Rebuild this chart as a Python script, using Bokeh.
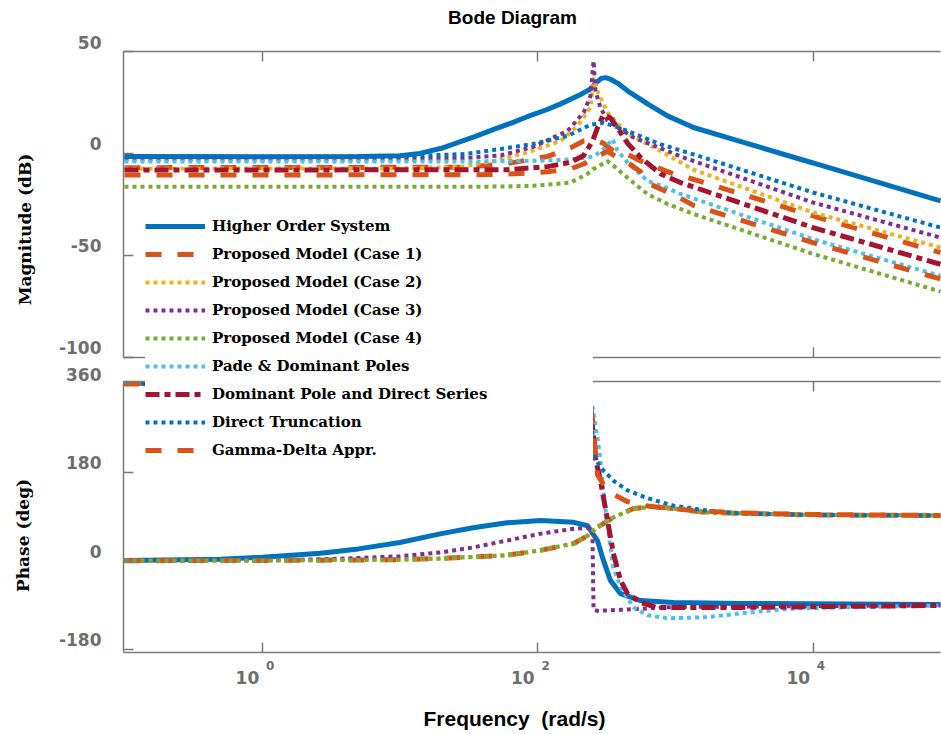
import math
from bokeh.plotting import figure
from bokeh.models import (Range1d, LinearAxis, LogAxis, FixedTicker, Legend,
                          LegendItem, Label)
from bokeh.embed import file_html
from bokeh.resources import INLINE

# ------------------------------------------------------------------ data
# frequency (rad/s) / magnitude (dB)
w_hos = [0.1, 1, 5, 10, 14, 20, 27.5, 35, 48, 65, 84, 115, 147, 200, 242, 270, 290, 311, 338, 380, 450, 629, 877, 1355, 3000, 10000, 84300]
mag_hos = [-1.5, -1.6, -1.5, -1.1, 0.0, 2.5, 5.8, 8.2, 11.8, 15.0, 18.0, 21.3, 24.3, 28.5, 31.6, 35.0, 36.8, 37.2, 36.4, 34.5, 30.7, 24.3, 18.4, 12.7, 5.8, -4.7, -23.3]

w_c1 = [0.1, 30, 60, 118, 173, 216, 260, 300, 355, 450, 560, 740, 970, 1355, 10000, 84300]
mag_c1 = [-7.0, -6.8, -5.0, -1.5, 2.7, 6.1, 6.5, 5.0, 1.2, -0.5, -3.7, -7.0, -10.0, -12.7, -30.7, -48.7]

w_c2 = [0.1, 10, 27.5, 48, 84, 147, 195, 242, 255, 272, 297, 322, 450, 780, 1355, 10000, 84300]
mag_c2 = [-7.5, -7.4, -6.6, -3.7, 0.4, 6.1, 13.5, 22.5, 37.2, 30.7, 25.0, 20.0, 9.6, 1.2, -8.0, -29.0, -46.2]

w_c3 = [0.1, 10, 30, 54, 93, 165, 216, 242, 255, 263, 286, 322, 498, 877, 1090, 10000, 84300]
mag_c3 = [-2.9, -2.8, -2.2, -1.0, 3.2, 11.0, 20.0, 28.2, 45.4, 30.7, 22.5, 16.0, 7.8, 1.2, -1.5, -24.1, -41.3]

w_c4 = [0.1, 54, 93, 147, 173, 231, 255, 322, 355, 450, 629, 877, 1355, 10000, 84300]
mag_c4 = [-16.4, -16.3, -15.9, -14.8, -14.3, -10.0, -7.6, -3.8, -6.0, -12.0, -20.0, -24.8, -29.7, -49.3, -67.8]

w_pd = [0.1, 30, 100, 173, 255, 301, 350, 380, 450, 629, 877, 1090, 10000, 84300]
mag_pd = [-4.0, -4.0, -3.6, -3.0, -1.5, 2.0, 7.0, 1.5, -4.5, -13.5, -17.0, -19.9, -42.1, -60.1]

w_dp = [0.1, 60, 118, 173, 216, 251, 272, 300, 338, 380, 450, 560, 780, 1090, 10000, 84300]
mag_dp = [-8.2, -8.0, -6.5, -4.4, -1.0, 6.1, 12.5, 18.8, 17.4, 12.5, 5.0, -2.0, -10.0, -14.3, -36.4, -54.4]

w_dt = [0.1, 10, 30, 54, 93, 165, 242, 301, 338, 450, 780, 1355, 10000, 84300]
mag_dt = [-1.6, -1.5, -0.3, 2.2, 4.6, 8.6, 14.0, 15.1, 14.0, 11.0, 4.5, -0.5, -19.2, -36.4]

w_gd = [0.1, 30, 60, 118, 173, 216, 260, 322, 380, 473, 560, 629, 877, 1090, 1355, 10000, 84300]
mag_gd = [-10.6, -10.5, -10.2, -9.0, -7.6, -5.2, -2.0, 1.0, -2.0, -5.5, -9.0, -14.5, -19.0, -22.0, -25.5, -43.8, -61.6]

# frequency (rad/s) / phase (deg)
wp_hos = [0.1, 0.5, 1, 2.65, 5, 10, 20, 34, 60, 105, 183, 231, 272, 301, 338, 400, 560, 970, 2960, 84300]
ph_hos = [0.5, 3, 7, 15, 24, 37, 55, 67, 77, 82, 78, 71, 41, 0, -40, -67, -81, -85, -87, -89]

# cases 1, 2 and 4 share the same phase curve in the picture
wp_c124 = [0.1, 1, 10, 20, 60, 105, 183, 231, 272, 355, 498, 700, 970, 1700, 10000, 84300]
ph_c124 = [0, 0.5, 2, 4.5, 11, 21, 35, 51, 68, 88, 106, 110, 106, 98, 93, 92]

wp_c3 = [0.1, 1, 3, 10, 20, 34, 60, 105, 183, 231, 250, 255, 272, 400, 629, 1000, 84300]
ph_c3 = [0, 1, 3, 9, 17, 27, 41, 55, 65, 67, 62, -100, -102, -100, -97, -94, -91]

wp_pd = [0.1, 200, 252, 259, 272, 286, 301, 322, 355, 400, 498, 629, 877, 1700, 2960, 7200, 84300]
ph_pd = [360, 360, 310, 285, 251, 204, 140, 70, -14, -54, -95, -111, -117, -115, -107, -97, -91]

wp_dp = [0.1, 200, 240, 263, 286, 322, 355, 400, 450, 560, 725, 2960, 84300]
ph_dp = [360, 360, 330, 208, 163, 82, 15, -40, -67, -85, -95, -95, -91]

wp_dt = [0.1, 200, 245, 259, 286, 355, 450, 629, 970, 1700, 2960, 10000, 84300]
ph_dt = [360, 360, 290, 210, 190, 163, 143, 127, 112, 102, 96, 93, 92]

wp_gd = [0.1, 200, 250, 272, 301, 355, 450, 560, 780, 1355, 2960, 10000, 84300]
ph_gd = [360, 360, 290, 175, 155, 135, 120, 113, 108, 102, 97, 94, 92]

series_names = ["Higher Order System", "Proposed Model (Case 1)", "Proposed Model (Case 2)",
                "Proposed Model (Case 3)", "Proposed Model (Case 4)", "Pade & Dominant Poles",
                "Dominant Pole and Direct Series", "Direct Truncation", "Gamma-Delta Appr."]

x_ticks = [1, 100, 10000]
x_tick_base = "10"
x_tick_exps = ["0", "2", "4"]
mag_ticks = [-100, -50, 0, 50]
mag_tick_labels = ["-100", "-50", "0", "50"]
ph_ticks = [-180, 0, 180, 360]
ph_tick_labels = ["-180", "0", "180", "360"]

# ------------------------------------------------------------------ layout (canvas px)
FIG_W, FIG_H = 941, 734
AX_L, AX_R = 123, 940
X1_PX, DEC_PX = 261.7, 137.7          # px of 1 rad/s, px per decade
MAG_TOP_PX, MAG_BOT_PX = 51.0, 356.7  # 50 dB and -100 dB
PH_180_PX, PH_M180_PX = 471.7, 648.7
PH_TOP_PX, PH_BOT_PX = 380.7, 652.0
NBSP = "\u00a0"


def w_at(px):
    return 10 ** ((px - X1_PX) / DEC_PX)


mag_ppd = (MAG_BOT_PX - MAG_TOP_PX) / 150.0
ph_ppd = (PH_M180_PX - PH_180_PX) / 360.0


def mag_at(py):
    return 50 - (py - MAG_TOP_PX) / mag_ppd


def ph_at(py):
    return 180 - (py - PH_180_PX) / ph_ppd


# the frame fills the whole canvas; axes are drawn at fixed locations inside it
p = figure(width=FIG_W, height=FIG_H, x_axis_type="log",
           x_range=Range1d(w_at(0), w_at(FIG_W)),
           y_range=Range1d(mag_at(FIG_H), mag_at(0)),
           x_axis_location=None, y_axis_location=None,
           output_backend="svg", toolbar_location=None,
           min_border_left=0, min_border_right=0, min_border_top=0, min_border_bottom=0)
p.extra_y_ranges = {"phase": Range1d(ph_at(FIG_H), ph_at(0))}
p.outline_line_color = None
p.xgrid.visible = False
p.ygrid.visible = False
p.background_fill_color = "white"
p.border_fill_color = "white"

# ------------------------------------------------------------------ styles
BLUE, ORANGE, YELLOW, PURPLE = "#0072BD", "#D95319", "#EDB120", "#7E2F8E"
GREEN, LBLUE, DRED = "#77AC30", "#4DBEEE", "#A2142F"
DOT = "4 4"
DASH = "16 16"
DASHDOT = "14 5 6 5"
styles = [
    dict(line_color=BLUE, line_width=5),
    dict(line_color=ORANGE, line_width=5, line_dash=DASH),
    dict(line_color=YELLOW, line_width=4, line_dash=DOT),
    dict(line_color=PURPLE, line_width=4, line_dash=DOT),
    dict(line_color=GREEN, line_width=4, line_dash=DOT),
    dict(line_color=LBLUE, line_width=4, line_dash=DOT),
    dict(line_color=DRED, line_width=5, line_dash=DASHDOT),
    dict(line_color=BLUE, line_width=4, line_dash=DOT),
    dict(line_color=ORANGE, line_width=5, line_dash=DASH),
]
mag_series = [(w_hos, mag_hos), (w_c1, mag_c1), (w_c2, mag_c2), (w_c3, mag_c3), (w_c4, mag_c4),
              (w_pd, mag_pd), (w_dp, mag_dp), (w_dt, mag_dt), (w_gd, mag_gd)]
ph_series = [(wp_hos, ph_hos), (wp_c124, ph_c124), (wp_c124, ph_c124), (wp_c3, ph_c3), (wp_c124, ph_c124),
             (wp_pd, ph_pd), (wp_dp, ph_dp), (wp_dt, ph_dt), (wp_gd, ph_gd)]

mag_renderers = []
for (wx, vy), st in zip(mag_series, styles):
    mag_renderers.append(p.line(wx, vy, **st))
for (wx, vy), st in zip(ph_series, styles):
    p.line(wx, vy, y_range_name="phase", **st)

# ------------------------------------------------------------------ axes
AX_COL = "#7a7a7a"
TICK_COL = "#6e6e6e"
TICK_FONT = "DejaVu Sans"


def style_axis(ax, labels=True):
    ax.axis_line_color = AX_COL
    ax.axis_line_width = 1.5
    ax.major_tick_line_color = AX_COL
    ax.major_tick_line_width = 1.5
    ax.major_tick_in = 10
    ax.major_tick_out = 0
    ax.minor_tick_line_color = None
    ax.major_label_text_font = TICK_FONT
    ax.major_label_text_font_style = "bold"
    ax.major_label_text_font_size = "17px"
    ax.major_label_text_color = TICK_COL
    if not labels:
        ax.major_label_text_alpha = 0
        ax.major_label_text_font_size = "1px"


x_lo = w_at(AX_L)
x_bounds = (w_at(AX_L), w_at(AX_R))

# y labels sit a little above their ticks (second, empty line lifts them)
ax_mag = LinearAxis(fixed_location=x_lo, bounds=(-100, 50), ticker=FixedTicker(ticks=mag_ticks))
style_axis(ax_mag)
ax_mag.major_label_standoff = 22
ax_mag.major_label_text_line_height = 0.9
ax_mag.major_label_overrides = {t: s + "\n" + NBSP for t, s in zip(mag_ticks, mag_tick_labels)}
p.add_layout(ax_mag, "left")

ax_ph = LinearAxis(y_range_name="phase", fixed_location=x_lo,
                   bounds=(ph_at(PH_BOT_PX), ph_at(PH_TOP_PX)), ticker=FixedTicker(ticks=ph_ticks))
style_axis(ax_ph)
ax_ph.major_label_standoff = 22
ax_ph.major_label_text_line_height = 0.9
ax_ph.major_label_overrides = {t: s + "\n" + NBSP for t, s in zip(ph_ticks, ph_tick_labels)}
p.add_layout(ax_ph, "left")

for side, rname, loc, lab in [("above", "default", 50, False),
                              ("below", "default", -100, False),
                              ("above", "phase", ph_at(PH_TOP_PX), False),
                              ("below", "phase", ph_at(PH_BOT_PX), True)]:
    ax = LogAxis(y_range_name=rname, fixed_location=loc, bounds=x_bounds,
                 ticker=FixedTicker(ticks=x_ticks))
    style_axis(ax, labels=lab)
    if lab:
        # base "10" left of the tick; exponent added as a raised smaller text
        ax.major_label_overrides = {t: x_tick_base + NBSP * 5 for t in x_ticks}
        ax.major_label_standoff = 15
    p.add_layout(ax, side)

for t, e in zip(x_ticks, x_tick_exps):
    tick_px = X1_PX + DEC_PX * math.log10(t)
    p.add_layout(Label(x=w_at(tick_px + 8), y=mag_at(665), text=e, text_align="center",
                       text_baseline="middle", text_font=TICK_FONT, text_font_style="bold",
                       text_font_size="12px", text_color=TICK_COL))

# ------------------------------------------------------------------ legend
legend = Legend(items=[LegendItem(label=n, renderers=[r]) for n, r in zip(series_names, mag_renderers)],
                location=(145, FIG_H - 462), margin=0, padding=9, spacing=4,
                glyph_width=60, glyph_height=24, label_height=24, label_width=381, label_standoff=7,
                label_text_font="DejaVu Serif", label_text_font_style="bold",
                label_text_font_size="15px", label_text_color="black",
                background_fill_color="white", background_fill_alpha=1.0,
                border_line_color=None)
p.add_layout(legend)


# ------------------------------------------------------------------ texts
def add_text(text, px, py, font, size, angle=0.0, color="black"):
    p.add_layout(Label(x=w_at(px), y=mag_at(py), text=text, text_align="center",
                       text_baseline="middle", angle=angle, text_font=font,
                       text_font_style="bold", text_font_size=size, text_color=color))


add_text("Bode Diagram", 512, 17, "Liberation Sans", "19px")
add_text("Magnitude (dB)", 24, 229, "DejaVu Serif", "17px", angle=math.pi / 2)
add_text("Phase (deg)", 22, 535, "DejaVu Serif", "17px", angle=math.pi / 2)
add_text("Frequency" + NBSP + " (rad/s)", 514, 718, "Liberation Sans Narrow, Liberation Sans", "21px")

open("out.html", "w").write(file_html(p, INLINE))
